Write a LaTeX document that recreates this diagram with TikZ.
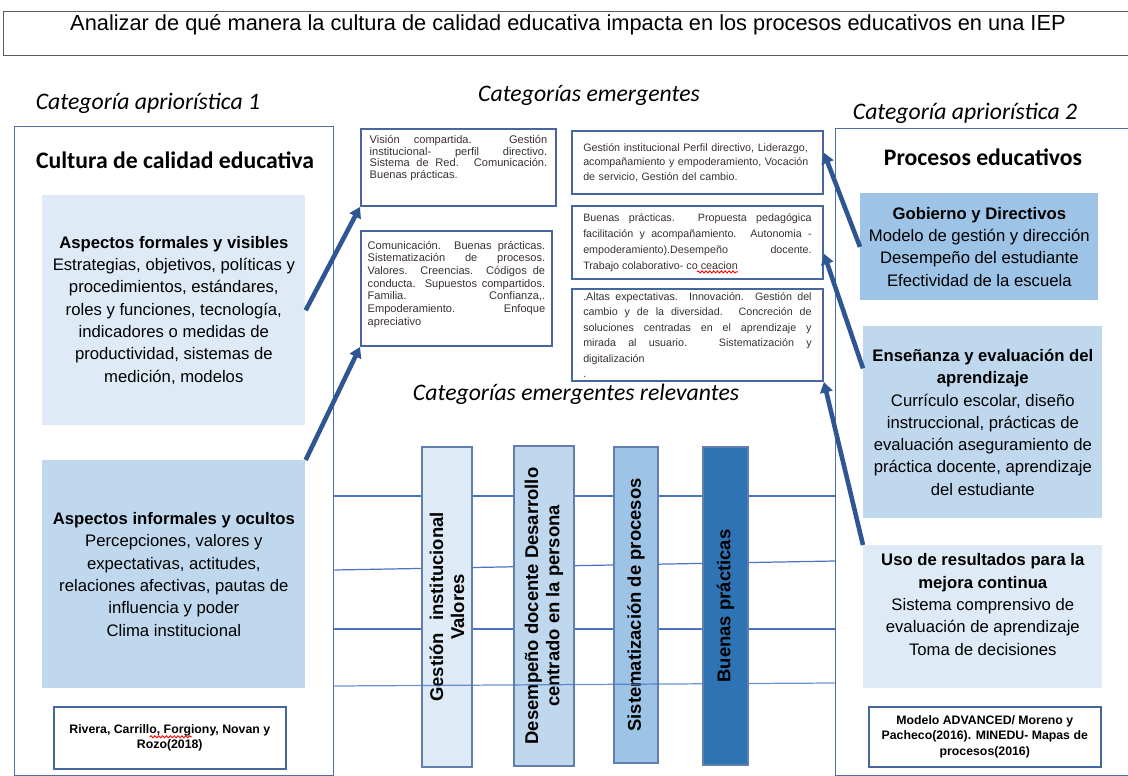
\documentclass[tikz,border=0pt]{standalone}
\usepackage{fontspec}
\setmainfont{Liberation Sans}
\newfontfamily\catfont{Carlito}
\usetikzlibrary{arrows.meta,calc,decorations.pathmorphing}
\definecolor{outerblue}{HTML}{4F6EA6}
\definecolor{boxblue}{HTML}{46679E}
\definecolor{paleblue}{HTML}{DEEAF6}
\definecolor{softblue}{HTML}{C0D8EE}
\definecolor{midblue}{HTML}{9DC3E6}
\definecolor{deepblue}{HTML}{2E74B5}
\definecolor{arrowblue}{HTML}{2F5592}
\definecolor{lineblue}{HTML}{4A76C0}
\definecolor{smalltext}{HTML}{3A3030}
\newcommand{\padbelow}[1]{\rule[-#1]{0pt}{#1}}

\begin{document}
\begin{tikzpicture}[x=0.02cm,y=-0.02cm]
  \tikzset{
    cathead/.style={font=\catfont\itshape\fontsize{13.5}{16}\selectfont},
    mainhead/.style={font=\catfont\bfseries\fontsize{13.5}{16}\selectfont},
    outer/.style={draw=outerblue,line width=0.8pt,anchor=north west},
    aspect/.style={anchor=north west,align=center,inner sep=0pt,font=\fontsize{9.5}{12.7}\selectfont},
    emerg/.style={draw=boxblue,line width=1.1pt,anchor=north west,inner sep=0pt,text=smalltext},
    relev/.style={draw=boxblue!85,line width=0.7pt,rotate=90,align=center,inner sep=0pt,font=\bfseries\fontsize{10.5}{12}\selectfont},
    source/.style={draw=boxblue,line width=0.9pt,anchor=north west,align=center,inner sep=0pt,font=\bfseries\fontsize{7}{8.6}\selectfont},
    link/.style={draw=lineblue,line width=0.7pt},
    wavy/.style={red,line width=0.5pt,decorate,decoration={snake,amplitude=0.6pt,segment length=2.2pt}},
    push/.style={-{Triangle[length=6pt,width=7pt]},draw=arrowblue,line width=2.6pt}
  }
  \useasboundingbox (0,0) rectangle (1128,776);

  \node(GOAL-BOX)[draw=gray!70!black,line width=0.6pt,anchor=north west,minimum width=22.6cm,minimum height=0.88cm] at (3,11) {};
  \node(GOAL)[font=\fontsize{12.4}{14}\selectfont] at (568,25) {Analizar de qué manera la cultura de calidad educativa impacta en los procesos educativos en una IEP};

  \node(CAT-1)[cathead] at (148,103) {Categoría apriorística 1};
  \node(CAT-E)[cathead] at (589,95) {Categorías emergentes};
  \node(CAT-2)[cathead] at (965,113) {Categoría apriorística 2};
  \node(CAT-R)[cathead] at (576,394) {Categorías emergentes relevantes};

  \node(BOX-1)[outer,minimum width=6.38cm,minimum height=12.98cm] at (14,126) {};
  \node(BOX-2)[outer,minimum width=6.3cm,minimum height=12.94cm] at (835,128) {};
  \node(HEAD-1)[mainhead] at (175,160) {Cultura de calidad educativa};
  \node(HEAD-2)[mainhead] at (983,157) {Procesos educativos};

  \node(ASP-1-1)[aspect,fill=paleblue,minimum width=5.26cm,minimum height=4.6cm] at (42,195)
    {\textbf{Aspectos formales y visibles}\\Estrategias, objetivos, políticas y\\procedimientos, estándares,\\roles y funciones, tecnología,\\indicadores o medidas de\\productividad, sistemas de\\medición, modelos};
  \node(ASP-1-2)[aspect,fill=softblue,minimum width=5.26cm,minimum height=4.56cm] at (42,460)
    {\textbf{Aspectos informales y ocultos}\\Percepciones, valores y\\expectativas, actitudes,\\relaciones afectivas, pautas de\\influencia y poder\\Clima institucional};
  \node(SRC-1)[source,minimum width=4.64cm,minimum height=1.24cm] at (53,706)
    {Rivera, Carrillo, Forgiony, Novan y\\Rozo(2018)};

  \node(EM-1-1)[emerg,align=justify,text width=101pt,minimum width=3.9cm,minimum height=1.54cm,font=\fontsize{6.3}{6.6}\selectfont] at (360,128)
    {Visión compartida. Gestión\linebreak institucional- perfil directivo.\linebreak Sistema de Red. Comunicación.\linebreak Buenas prácticas.\padbelow{12pt}};
  \node(EM-1-2)[emerg,align=justify,text width=101pt,minimum width=3.82cm,minimum height=2.3cm,font=\fontsize{6.3}{7.2}\selectfont] at (360,230)
    {Comunicación. Buenas prácticas.\linebreak Sistematización de procesos.\linebreak Valores. Creencias. Códigos de\linebreak conducta. Supuestos compartidos.\linebreak Familia. Confianza,.\linebreak Empoderamiento. Enfoque\linebreak apreciativo\padbelow{6pt}};
  \node(EM-2-1)[emerg,align=left,text width=130pt,minimum width=5.02cm,minimum height=1.26cm,font=\fontsize{6.1}{8.2}\selectfont] at (571,130)
    {Gestión institucional Perfil directivo, Liderazgo,\\acompañamiento y empoderamiento, Vocación\\de servicio, Gestión del cambio.};
  \node(EM-2-2)[emerg,align=justify,text width=130pt,minimum width=5.02cm,minimum height=1.46cm,font=\fontsize{6.1}{9}\selectfont] at (571,205)
    {Buenas prácticas. Propuesta pedagógica\linebreak facilitación y acompañamiento. Autonomia -\linebreak empoderamiento).Desempeño docente.\linebreak Trabajo colaborativo- co ceacion};
  \node(EM-2-3)[emerg,align=justify,text width=130pt,minimum width=5.02cm,minimum height=1.84cm,font=\fontsize{6.1}{8.8}\selectfont] at (571,288)
    {.Altas expectativas. Innovación. Gestión del\linebreak cambio y de la diversidad. Concreción de\linebreak soluciones centradas en el aprendizaje y\linebreak mirada al usuario. Sistematización y\linebreak digitalización\\.};

  \node(ASP-2-1)[aspect,fill=midblue,minimum width=4.76cm,minimum height=2.14cm] at (860,193)
    {\textbf{Gobierno y Directivos}\\Modelo de gestión y dirección\\Desempeño del estudiante\\Efectividad de la escuela};
  \node(ASP-2-2)[aspect,fill=softblue,minimum width=4.78cm,minimum height=3.84cm] at (863,326)
    {\textbf{Enseñanza y evaluación del}\\\textbf{aprendizaje}\\Currículo escolar, diseño\\instruccional, prácticas de\\evaluación aseguramiento de\\práctica docente, aprendizaje\\del estudiante};
  \node(ASP-2-3)[aspect,fill=paleblue,minimum width=4.78cm,minimum height=2.86cm] at (863,545)
    {\textbf{Uso de resultados para la}\\\textbf{mejora continua}\\Sistema comprensivo de\\evaluación de aprendizaje\\Toma de decisiones\padbelow{14pt}};
  \node(SRC-2)[source,minimum width=4.64cm,minimum height=1.2cm] at (868,706)
    {Modelo ADVANCED/ Moreno y\\Pacheco(2016). MINEDU- Mapas de\\procesos(2016)};

  \draw[link] (BOX-1.east |- 0,496) -- (BOX-2.west |- 0,496);
  \draw[link] (BOX-1.east |- 0,570) -- (BOX-2.west |- 0,561);
  \draw[link] (BOX-1.east |- 0,629) -- (BOX-2.west |- 0,629);

  \node(REL-1)[relev,fill=paleblue,minimum width=6.4cm,minimum height=1cm] at (447,607) {Gestión\hspace{4pt} institucional\\Valores};
  \node(REL-2)[relev,fill=softblue,minimum width=6.4cm,minimum height=1.2cm] at (544,606) {Desempeño docente Desarrollo\\centrado en la persona};
  \node(REL-3)[relev,fill=midblue,minimum width=6.32cm,minimum height=0.88cm] at (636,605) {Sistematización de procesos};
  \draw[link,opacity=0.8] (BOX-1.east |- 0,686) -- (BOX-2.west |- 0,683);
  \node(REL-4)[relev,fill=deepblue,minimum width=6.36cm,minimum height=0.9cm] at (725.5,606) {Buenas prácticas};

  \draw[wavy] ($(SRC-1.center)+(-20,-1)$) -- ($(SRC-1.center)+(22,-1)$);
  \draw[wavy] ($(EM-2-2.south west)+(126,-8)$) -- ($(EM-2-2.south west)+(167,-8)$);

  \draw[push] (ASP-1-1.east) -- (EM-1-1.south west);
  \draw[push] (ASP-1-2.north east) -- (EM-1-2.south west);
  \draw[push] (ASP-2-1.west) -- ($(EM-2-1.north east)!0.35!(EM-2-1.south east)$);
  \draw[push] ($(ASP-2-2.north west)!0.22!(ASP-2-2.south west)$) -- ($(EM-2-2.north east)!0.65!(EM-2-2.south east)$);
  \draw[push] (ASP-2-3.north west) -- (EM-2-3.south east);
\end{tikzpicture}
\end{document}
